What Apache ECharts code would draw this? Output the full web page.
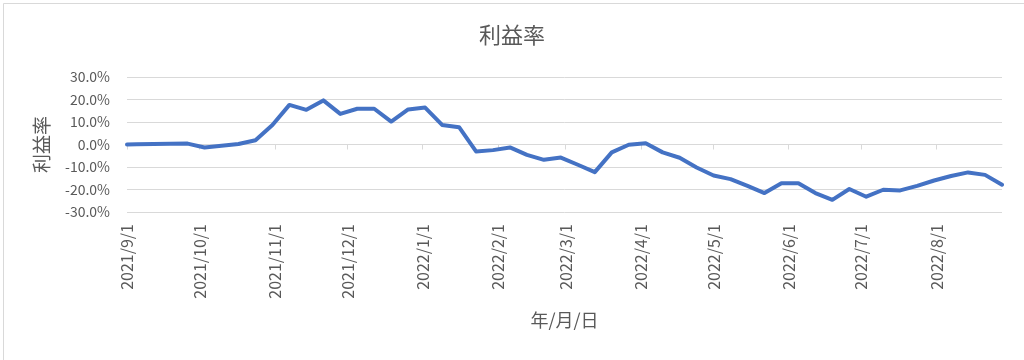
<!DOCTYPE html>
<html>
<head>
<meta charset="utf-8">
<script src="https://cdn.jsdelivr.net/npm/echarts@6/dist/echarts.min.js"></script>
<style>
html,body{margin:0;padding:0;background:#fff;}
#chart{width:1024px;height:360px;}
</style>
</head>
<body>
<div id="chart"></div>
<script>
// ---- data ----
var titleText = '利益率';
var yAxisName = '利益率';
var xAxisName = '年/月/日';
var dates = [
  '2021-09-01','2021-09-05','2021-09-12','2021-09-19','2021-09-26',
  '2021-10-03','2021-10-10','2021-10-17','2021-10-24','2021-10-31',
  '2021-11-07','2021-11-14','2021-11-21','2021-11-28',
  '2021-12-05','2021-12-12','2021-12-19','2021-12-26',
  '2022-01-02','2022-01-09','2022-01-16','2022-01-23','2022-01-30',
  '2022-02-06','2022-02-13','2022-02-20','2022-02-27',
  '2022-03-06','2022-03-13','2022-03-20','2022-03-27',
  '2022-04-03','2022-04-10','2022-04-17','2022-04-24',
  '2022-05-01','2022-05-08','2022-05-15','2022-05-22','2022-05-29',
  '2022-06-05','2022-06-12','2022-06-19','2022-06-26',
  '2022-07-03','2022-07-10','2022-07-17','2022-07-24','2022-07-31',
  '2022-08-07','2022-08-14','2022-08-21','2022-08-28'
];
var profitRate = [
  0.0, 0.1, 0.2, 0.3, 0.4,
  -1.3, -0.6, 0.2, 1.9, 8.7,
  17.6, 15.4, 19.6, 13.6,
  15.9, 15.9, 10.2, 15.6,
  16.4, 8.7, 7.7, -3.1, -2.5,
  -1.3, -4.6, -6.8, -5.8,
  -9.0, -12.3, -3.5, -0.1,
  0.6, -3.5, -5.9, -10.2,
  -13.8, -15.4, -18.4, -21.6, -17.2,
  -17.2, -21.6, -24.6, -19.8,
  -23.2, -20.1, -20.4, -18.4, -16.0,
  -14.0, -12.4, -13.5, -17.9
];
var monthTicks = [
  '2021-09-01','2021-10-01','2021-11-01','2021-12-01','2022-01-01','2022-02-01',
  '2022-03-01','2022-04-01','2022-05-01','2022-06-01','2022-07-01','2022-08-01'
];
var axisStart = '2021-09-01';
var axisEnd = '2022-08-28';

// ---- helpers: dates -> day offset from axisStart (UTC) ----
var DAY = 86400000;
function utc(s){ var p = s.split('-'); return Date.UTC(+p[0], +p[1]-1, +p[2]); }
var T0 = utc(axisStart);
function dayOf(s){ return Math.round((utc(s) - T0) / DAY); }
function fmtDay(n){ var d = new Date(T0 + n * DAY); return d.getUTCFullYear()+'/'+(d.getUTCMonth()+1)+'/'+d.getUTCDate(); }

var seriesData = dates.map(function(d,i){ return [dayOf(d), profitRate[i]]; });
var tickVals = monthTicks.map(dayOf);

var FONT = '"Noto Sans CJK JP", "Noto Sans", sans-serif';
var GREY = '#595959';
var GRID_TOP = 77, GRID_BOTTOM = 148, CH = 360;
var Y_MIN = -30, Y_MAX = 30;
// pixel distance from plot bottom up to the zero line (for the axis crossing at 0)
var zeroOffset = (CH - GRID_TOP - GRID_BOTTOM) * (0 - Y_MIN) / (Y_MAX - Y_MIN);

var chart = echarts.init(document.getElementById('chart'), null, {renderer:'canvas'});
chart.setOption({
  animation: false,
  backgroundColor: '#ffffff',
  textStyle: { fontFamily: FONT },
  title: {
    text: titleText, left: 'center', top: 19,
    textStyle: { fontFamily: FONT, fontSize: 22, fontWeight: 'normal', color: GREY }
  },
  graphic: [{
    type: 'rect', left: 1, top: 1, silent: true,
    shape: { width: 1021, height: 357 },
    style: { fill: 'none', stroke: '#d9d9d9', lineWidth: 1 }
  }],
  grid: { left: 127, right: 22, top: GRID_TOP, bottom: GRID_BOTTOM, containLabel: false },
  xAxis: [{
    type: 'value',
    min: 0, max: dayOf(axisEnd),
    name: xAxisName, nameLocation: 'middle', nameGap: 99,
    nameTextStyle: { fontFamily: FONT, fontSize: 18, color: GREY },
    axisLine: { show: false, onZero: false },
    axisTick: { show: false },
    splitLine: { show: false },
    axisLabel: {
      customValues: tickVals,
      rotate: 90, margin: 12, fontSize: 16, color: GREY, fontFamily: FONT,
      formatter: function(v){ return fmtDay(v); }
    }
  },{
    type: 'value', position: 'bottom', offset: -zeroOffset,
    min: 0, max: dayOf(axisEnd),
    axisLine: { show: true, onZero: false, lineStyle: { color: '#d9d9d9', width: 1 } },
    axisTick: { show: true, customValues: tickVals, length: 5, lineStyle: { color: '#d9d9d9' } },
    axisLabel: { show: false },
    splitLine: { show: false }
  }],
  yAxis: {
    type: 'value', min: Y_MIN, max: Y_MAX, interval: 10,
    name: yAxisName, nameLocation: 'middle', nameGap: 76, nameRotate: 90,
    nameTextStyle: { fontFamily: FONT, fontSize: 19, color: GREY },
    axisLine: { show: false }, axisTick: { show: false },
    splitLine: { show: true, lineStyle: { color: '#d9d9d9', width: 1 } },
    axisLabel: {
      margin: 17, fontSize: 14, color: GREY, fontFamily: FONT,
      formatter: function(v){ return v.toFixed(1) + '%'; }
    }
  },
  series: [{
    type: 'line', xAxisIndex: 0, data: seriesData,
    showSymbol: false, symbol: 'none', smooth: false,
    lineStyle: { color: '#4472C4', width: 4, join: 'round', cap: 'round' },
    itemStyle: { color: '#4472C4' },
    z: 5
  }]
});
</script>
</body>
</html>
